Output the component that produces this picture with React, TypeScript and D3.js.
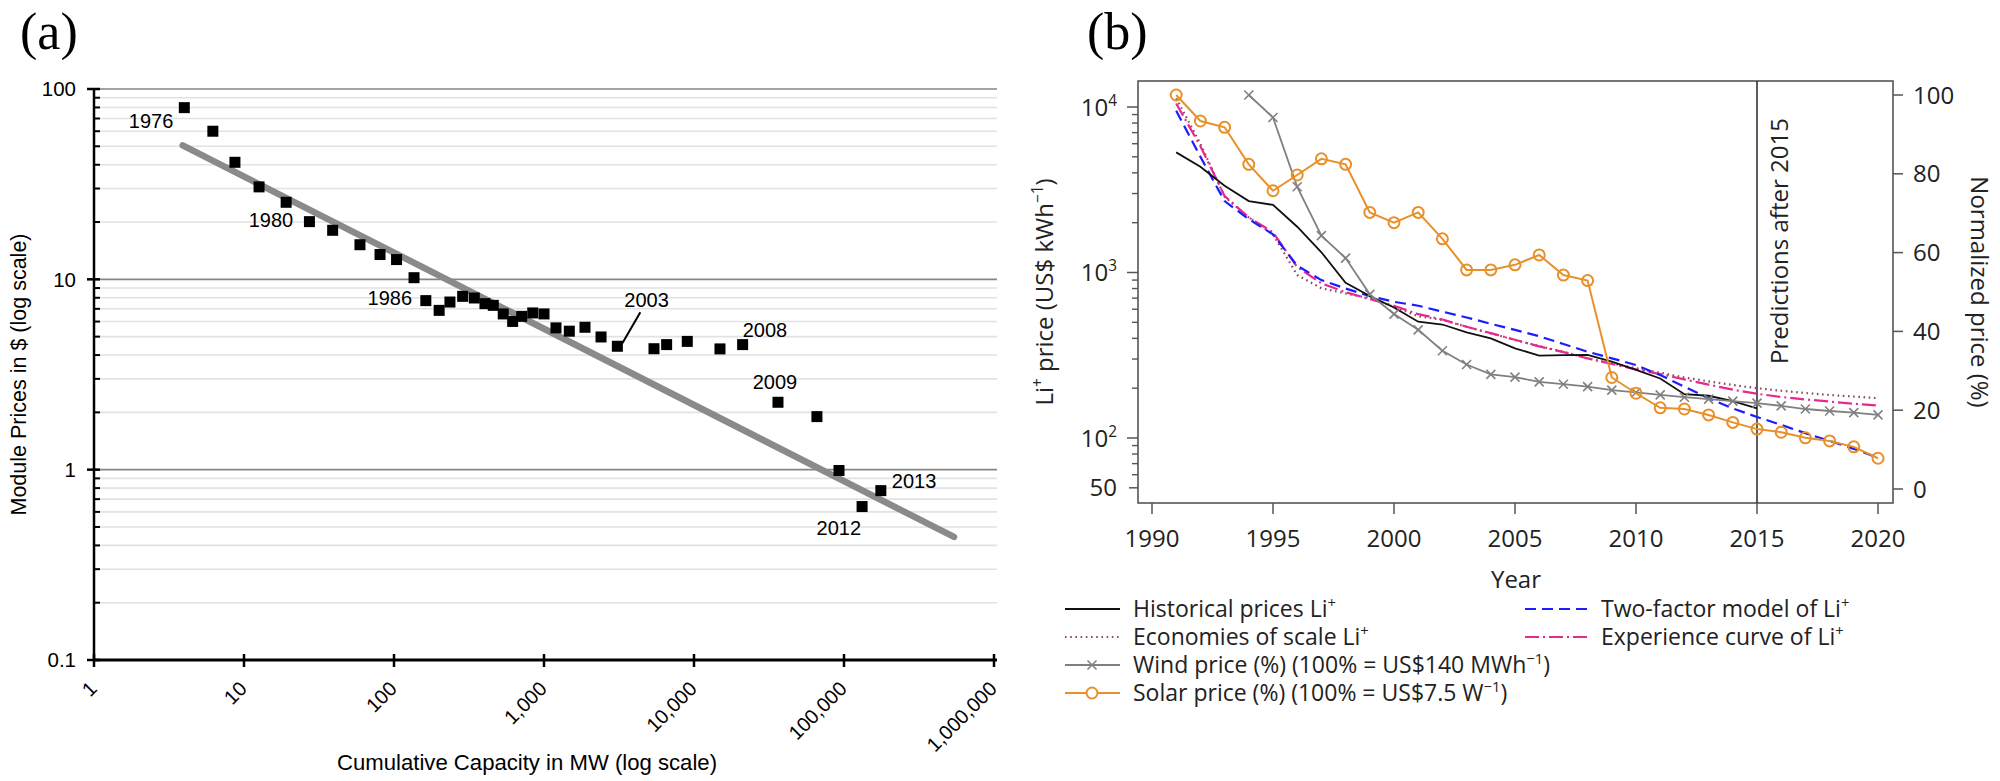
import React from 'react';
import * as d3 from 'd3';

// ---------------- Panel (a) data ----------------
const pvYears = [1976, 1977, 1978, 1979, 1980, 1981, 1982, 1983, 1984, 1985, 1986, 1987, 1988, 1989, 1990, 1991, 1992, 1993, 1994, 1995, 1996, 1997, 1998, 1999, 2000, 2001, 2002, 2003, 2004, 2005, 2006, 2007, 2008, 2009, 2010, 2011, 2012, 2013];
const pvCapacityMW = [4, 6.2, 8.7, 12.6, 19.1, 27.3, 39, 59.3, 80.7, 104, 136, 163, 200, 236, 287, 343, 404, 459, 535, 618, 710, 841, 1000, 1202, 1475, 1876, 2400, 3083, 5410, 6570, 9020, 14900, 21100, 36300, 66000, 92600, 132000, 176000];
const pvPriceUSD = [79.8, 60, 41.2, 30.6, 25.4, 20.1, 18.1, 15.2, 13.5, 12.7, 10.2, 7.73, 6.87, 7.6, 8.14, 7.98, 7.45, 7.3, 6.58, 6.01, 6.39, 6.66, 6.58, 5.56, 5.34, 5.6, 4.98, 4.45, 4.32, 4.54, 4.72, 4.31, 4.54, 2.26, 1.9, 0.99, 0.64, 0.776];
const pvLabelYears = [1976, 1980, 1986, 2003, 2008, 2009, 2012, 2013];
const trendCapacity = [3.9, 541000];
const trendPrice = [50.6, 0.443];
const aYTicks = [0.1, 1, 10, 100];
const aYTickLabels = ['0.1', '1', '10', '100'];
const aXTicks = [1, 10, 100, 1000, 10000, 100000, 1000000];
const aXTickLabels = ['1', '10', '100', '1,000', '10,000', '100,000', '1,000,000'];

// ---------------- Panel (b) data ----------------
const liYears = [1991, 1992, 1993, 1994, 1995, 1996, 1997, 1998, 1999, 2000, 2001, 2002, 2003, 2004, 2005, 2006, 2007, 2008, 2009, 2010, 2011, 2012, 2013, 2014, 2015, 2016, 2017, 2018, 2019, 2020];
const historicalLi = [5320, 4350, 3340, 2700, 2560, 1890, 1325, 867, 721, 615, 504, 485, 435, 400, 348, 315, 317, 318, 289, 258, 229, 184, 180, 167, 151];
const economiesLi = [11300, 6000, 2870, 2150, 1700, 966, 803, 748, 698, 620, 545, 517, 470, 429, 391, 359, 332, 303, 282, 264, 248, 232, 220, 209, 200, 193, 187, 182, 178, 174];
const twoFactorLi = [9500, 5000, 2700, 2100, 1700, 1100, 900, 800, 720, 665, 630, 580, 535, 490, 450, 412, 370, 332, 303, 276, 240, 204, 174, 151, 134, 120, 107, 96, 86, 76];
const experienceLi = [10500, 5800, 2900, 2150, 1750, 1080, 860, 760, 690, 630, 560, 520, 470, 430, 392, 358, 330, 303, 280, 260, 243, 226, 210, 196, 185, 177, 171, 166, 161, 157];
const windYears = [1994, 1995, 1996, 1997, 1998, 1999, 2000, 2001, 2002, 2003, 2004, 2005, 2006, 2007, 2008, 2009, 2010, 2011, 2012, 2013, 2014, 2015, 2016, 2017, 2018, 2019, 2020];
const windPct = [100, 94.3, 76.7, 64.3, 58.6, 49.4, 44.4, 40.4, 35.1, 31.6, 29.1, 28.4, 27.2, 26.6, 26.0, 25.1, 24.5, 23.9, 23.3, 22.8, 22.3, 21.8, 21.1, 20.3, 19.8, 19.4, 18.8];
const solarPct = [100, 93.4, 91.8, 82.4, 75.7, 79.7, 83.8, 82.4, 70.2, 67.6, 70.2, 63.5, 55.6, 55.6, 56.9, 59.4, 54.3, 52.9, 28.3, 24.3, 20.6, 20.3, 18.8, 16.9, 15.2, 14.4, 13.0, 12.2, 10.7, 7.8];
const bXTicks = [1990, 1995, 2000, 2005, 2010, 2015, 2020];
const bLeftTicks = [100, 1000, 10000];
const bLeftExponents = ['2', '3', '4'];
const bRightTicks = [0, 20, 40, 60, 80, 100];
const predictionYear = 2015;

const C = {
  orange: '#e8902a',
  wind: '#808080',
  blue: '#1c1cff',
  pink: '#e8288f',
  maroon: '#8b4c5c',
};

const labelLayout: Record<number, { dx: number; dy: number; anchor: string }> = {
  1976: { dx: -11, dy: 20, anchor: 'end' },
  1980: { dx: 7, dy: 25, anchor: 'end' },
  1986: { dx: -2, dy: 27, anchor: 'end' },
  2003: { dx: 7, dy: -39, anchor: 'start' },
  2008: { dx: 0, dy: -8, anchor: 'start' },
  2009: { dx: -3, dy: -13, anchor: 'middle' },
  2012: { dx: -1, dy: 28, anchor: 'end' },
  2013: { dx: 11, dy: -3, anchor: 'start' },
};

const SANS_A = '"Liberation Sans", Arial, sans-serif';
const SANS_B = '"Open Sans", "Noto Sans", sans-serif';
const SERIF = '"Liberation Serif", "Times New Roman", serif';

export default function App() {
  // ---- Panel (a) scales ----
  const xA = d3.scaleLog().domain([1, 1e6]).range([94, 994]);
  const yA = d3.scaleLog().domain([0.1, 100]).range([660, 89]);
  const aRight = 997;
  const minorA: number[] = [];
  [0.1, 1, 10].forEach((d) => {
    for (let k = 2; k <= 9; k++) minorA.push(d * k);
  });
  const trendLine = d3
    .line<number>()
    .x((_, i) => xA(trendCapacity[i]))
    .y((_, i) => yA(trendPrice[i]))(trendCapacity);

  // ---- Panel (b) scales ----
  const xB = d3.scaleLinear().domain([1990, 2020]).range([1152, 1878]);
  const yL = d3.scaleLog().domain([100, 10000]).range([438, 107]);
  const yR = d3.scaleLinear().domain([0, 100]).range([489, 95]);
  const box = { l: 1138, r: 1893, t: 81, b: 503 };
  const minorB: number[] = [];
  [10, 100, 1000].forEach((d) => {
    for (let k = 2; k <= 9; k++) {
      const v = d * k;
      if (yL(v) <= box.b && yL(v) >= box.t && v !== 50) minorB.push(v);
    }
  });
  const lineL = (ys: number[], vals: number[]) =>
    d3
      .line<number>()
      .x((_, i) => xB(ys[i]))
      .y((v) => yL(v))(vals) || '';
  const lineR = (ys: number[], vals: number[]) =>
    d3
      .line<number>()
      .x((_, i) => xB(ys[i]))
      .y((v) => yR(v))(vals) || '';

  const sup = (s: string, size: number) => (
    <tspan dy={-size * 0.42} fontSize={size * 0.64}>
      {s}
    </tspan>
  );

  const legendRows = [609, 637, 665, 693];
  const xMark = (cx: number, cy: number, r: number, color: string, key?: string) => (
    <g key={key} stroke={color} strokeWidth={1.6}>
      <line x1={cx - r} y1={cy - r} x2={cx + r} y2={cy + r} />
      <line x1={cx - r} y1={cy + r} x2={cx + r} y2={cy - r} />
    </g>
  );

  return (
    <svg
      width={2000}
      height={781}
      style={{ position: 'absolute', left: 0, top: 0, background: '#fff' }}
    >
      <rect x={0} y={0} width={2000} height={781} fill="#fff" />

      {/* ================= Panel (a) ================= */}
      <text x={20} y={49} fontFamily={SERIF} fontSize={52} fill="#000">
        (a)
      </text>

      {/* minor gridlines */}
      {minorA.map((v) => (
        <line key={'mg' + v} x1={xA(1)} x2={aRight} y1={yA(v)} y2={yA(v)} stroke="#e2e2e2" strokeWidth={1.6} />
      ))}
      {/* major gridlines */}
      {aYTicks.slice(1).map((v) => (
        <line key={'Mg' + v} x1={xA(1)} x2={aRight} y1={yA(v)} y2={yA(v)} stroke="#858585" strokeWidth={1.6} />
      ))}

      {/* trend line */}
      <path d={trendLine || ''} fill="none" stroke="#8a8a8a" strokeWidth={6.5} strokeLinecap="round" />

      {/* data squares */}
      {pvCapacityMW.map((c, i) => (
        <rect key={'sq' + i} x={xA(c) - 5.5} y={yA(pvPriceUSD[i]) - 5.5} width={11} height={11} fill="#000" />
      ))}

      {/* year labels */}
      {pvLabelYears.map((yr) => {
        const i = pvYears.indexOf(yr);
        const px = xA(pvCapacityMW[i]);
        const py = yA(pvPriceUSD[i]);
        const L = labelLayout[yr];
        return (
          <text key={'lab' + yr} x={px + L.dx} y={py + L.dy} textAnchor={L.anchor as any} fontFamily={SANS_A} fontSize={20} fill="#000">
            {yr}
          </text>
        );
      })}
      {(() => {
        const i = pvYears.indexOf(2003);
        const px = xA(pvCapacityMW[i]);
        const py = yA(pvPriceUSD[i]);
        return <line x1={px + 23} y1={py - 34} x2={px + 5} y2={py - 3} stroke="#000" strokeWidth={2} />;
      })()}

      {/* axes */}
      <line x1={xA(1)} x2={xA(1)} y1={yA(100) - 1} y2={yA(0.1)} stroke="#000" strokeWidth={2.5} />
      <line x1={xA(1) - 1} x2={aRight} y1={yA(0.1)} y2={yA(0.1)} stroke="#000" strokeWidth={3} />
      {minorA.map((v) => (
        <line key={'mt' + v} x1={xA(1)} x2={xA(1) + 6} y1={yA(v)} y2={yA(v)} stroke="#000" strokeWidth={2} />
      ))}
      {aYTicks.map((v, i) => (
        <g key={'yt' + v}>
          <line x1={xA(1) - 7} x2={xA(1) + 6} y1={yA(v)} y2={yA(v)} stroke="#000" strokeWidth={2.5} />
          <text x={76} y={yA(v)} dy="0.35em" textAnchor="end" fontFamily={SANS_A} fontSize={20.5} fill="#000">
            {aYTickLabels[i]}
          </text>
        </g>
      ))}
      {aXTicks.map((v, i) => (
        <g key={'xt' + v}>
          <line x1={xA(v)} x2={xA(v)} y1={yA(0.1) - 6} y2={yA(0.1) + 7} stroke="#000" strokeWidth={2.5} />
          <text
            transform={`translate(${xA(v) + 4},${yA(0.1) + 30}) rotate(-45)`}
            textAnchor="end"
            fontFamily={SANS_A}
            fontSize={20}
            fill="#000"
          >
            {aXTickLabels[i]}
          </text>
        </g>
      ))}
      <text x={527} y={770} textAnchor="middle" fontFamily={SANS_A} fontSize={22} textLength={380} lengthAdjust="spacingAndGlyphs" fill="#000">
        Cumulative Capacity in MW (log scale)
      </text>
      <text transform={`translate(26,${(yA(100) + yA(0.1)) / 2}) rotate(-90)`} textAnchor="middle" fontFamily={SANS_A} fontSize={21.5} fill="#000">
        Module Prices in $ (log scale)
      </text>

      {/* ================= Panel (b) ================= */}
      <text x={1087} y={49} fontFamily={SERIF} fontSize={52} fill="#000">
        (b)
      </text>

      {/* box */}
      <rect x={box.l} y={box.t} width={box.r - box.l} height={box.b - box.t} fill="none" stroke="#555" strokeWidth={1.6} />

      {/* left axis ticks */}
      {minorB.map((v) => (
        <line key={'lb' + v} x1={box.l - 6} x2={box.l} y1={yL(v)} y2={yL(v)} stroke="#555" strokeWidth={1.4} />
      ))}
      {bLeftTicks.map((v, i) => (
        <g key={'lt' + v}>
          <line x1={box.l - 11} x2={box.l} y1={yL(v)} y2={yL(v)} stroke="#555" strokeWidth={1.5} />
          <text x={1117} y={yL(v)} dy="0.36em" textAnchor="end" fontFamily={SANS_B} fontSize={24} fill="#222">
            10{sup(bLeftExponents[i], 24)}
          </text>
        </g>
      ))}
      <line x1={box.l - 9} x2={box.l} y1={yL(50)} y2={yL(50)} stroke="#555" strokeWidth={1.5} />
      <text x={1117} y={yL(50)} dy="0.36em" textAnchor="end" fontFamily={SANS_B} fontSize={24} fill="#222">
        50
      </text>

      {/* bottom ticks */}
      {bXTicks.map((v) => (
        <g key={'bt' + v}>
          <line x1={xB(v)} x2={xB(v)} y1={box.b} y2={box.b + 11} stroke="#555" strokeWidth={1.5} />
          <text x={xB(v)} y={547} textAnchor="middle" fontFamily={SANS_B} fontSize={24} fill="#222">
            {v}
          </text>
        </g>
      ))}
      <text x={1516} y={588} textAnchor="middle" fontFamily={SANS_B} fontSize={24} fill="#222">
        Year
      </text>

      {/* right ticks */}
      {bRightTicks.map((v) => (
        <g key={'rt' + v}>
          <line x1={box.r} x2={box.r + 10} y1={yR(v)} y2={yR(v)} stroke="#555" strokeWidth={1.5} />
          <text x={1913} y={yR(v)} dy="0.36em" textAnchor="start" fontFamily={SANS_B} fontSize={24} fill="#222">
            {v}
          </text>
        </g>
      ))}

      {/* axis titles */}
      <text transform={`translate(1053,${(box.t + box.b) / 2}) rotate(-90)`} textAnchor="middle" fontFamily={SANS_B} fontSize={24} fill="#222">
        Li{sup('+', 24)}
        <tspan dy={24 * 0.42}> price (US$ kWh</tspan>
        {sup('−1', 24)}
        <tspan dy={24 * 0.42}>)</tspan>
      </text>
      <text transform={`translate(1971,${(box.t + box.b) / 2}) rotate(90)`} textAnchor="middle" fontFamily={SANS_B} fontSize={24} fill="#222">
        Normalized price (%)
      </text>

      {/* prediction line */}
      <line x1={xB(predictionYear)} x2={xB(predictionYear)} y1={box.t} y2={box.b} stroke="#333" strokeWidth={1.6} />
      <text transform={`translate(1788,241) rotate(-90)`} textAnchor="middle" fontFamily={SANS_B} fontSize={24} fill="#222">
        Predictions after 2015
      </text>

      {/* series */}
      <path d={lineL(liYears, economiesLi)} fill="none" stroke={C.maroon} strokeWidth={2.2} strokeDasharray="1.6 3.6" />
      <path d={lineL(liYears, experienceLi)} fill="none" stroke={C.pink} strokeWidth={2.2} strokeDasharray="14 4 2 4" />
      <path d={lineL(liYears, twoFactorLi)} fill="none" stroke={C.blue} strokeWidth={2.2} strokeDasharray="11 6" />
      <path d={lineL(liYears, historicalLi)} fill="none" stroke="#111" strokeWidth={1.8} />
      <path d={lineR(windYears, windPct)} fill="none" stroke={C.wind} strokeWidth={1.8} />
      {windPct.map((v, i) => xMark(xB(windYears[i]), yR(v), 4.5, C.wind, 'wm' + i))}
      <path d={lineR(liYears, solarPct)} fill="none" stroke={C.orange} strokeWidth={2} />
      {solarPct.map((v, i) => (
        <circle key={'sc' + i} cx={xB(liYears[i])} cy={yR(v)} r={5.5} fill="none" stroke={C.orange} strokeWidth={2} />
      ))}

      {/* legend */}
      <g fontFamily={SANS_B} fontSize={23} fill="#222">
        <line x1={1065} x2={1120} y1={legendRows[0]} y2={legendRows[0]} stroke="#111" strokeWidth={2} />
        <text x={1133} y={legendRows[0]} dy="0.36em">
          Historical prices Li{sup('+', 23)}
        </text>
        <line x1={1065} x2={1120} y1={legendRows[1]} y2={legendRows[1]} stroke={C.maroon} strokeWidth={2.2} strokeDasharray="1.6 3.6" />
        <text x={1133} y={legendRows[1]} dy="0.36em">
          Economies of scale Li{sup('+', 23)}
        </text>
        <line x1={1065} x2={1120} y1={legendRows[2]} y2={legendRows[2]} stroke={C.wind} strokeWidth={1.8} />
        {xMark(1092, legendRows[2], 4.5, C.wind)}
        <text x={1133} y={legendRows[2]} dy="0.36em">
          Wind price (%) (100% = US$140 MWh{sup('−1', 23)}
          <tspan dy={23 * 0.42}>)</tspan>
        </text>
        <line x1={1065} x2={1120} y1={legendRows[3]} y2={legendRows[3]} stroke={C.orange} strokeWidth={2} />
        <circle cx={1092} cy={legendRows[3]} r={5.5} fill="#fff" stroke={C.orange} strokeWidth={2} />
        <text x={1133} y={legendRows[3]} dy="0.36em">
          Solar price (%) (100% = US$7.5 W{sup('−1', 23)}
          <tspan dy={23 * 0.42}>)</tspan>
        </text>

        <line x1={1525} x2={1588} y1={legendRows[0]} y2={legendRows[0]} stroke={C.blue} strokeWidth={2.2} strokeDasharray="11 6" />
        <text x={1601} y={legendRows[0]} dy="0.36em">
          Two-factor model of Li{sup('+', 23)}
        </text>
        <line x1={1525} x2={1588} y1={legendRows[1]} y2={legendRows[1]} stroke={C.pink} strokeWidth={2.2} strokeDasharray="14 4 2 4" />
        <text x={1601} y={legendRows[1]} dy="0.36em">
          Experience curve of Li{sup('+', 23)}
        </text>
      </g>
    </svg>
  );
}
